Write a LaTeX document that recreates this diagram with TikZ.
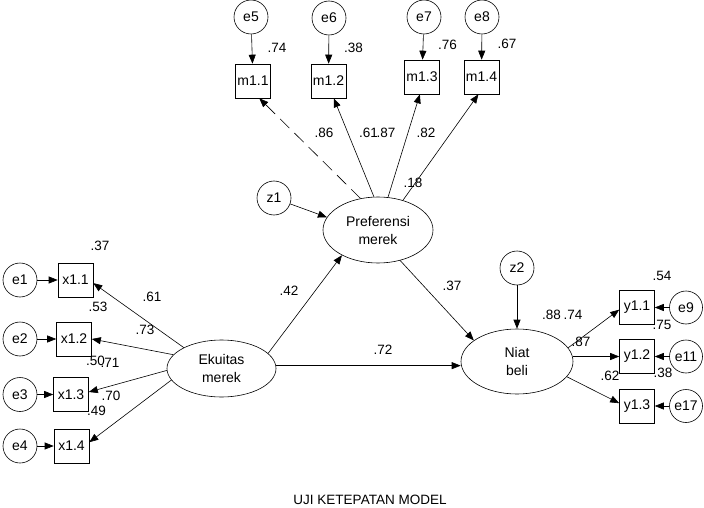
\documentclass[tikz,border=0pt]{standalone}
\usepackage{fontspec}
\setmainfont{Liberation Sans}
\usetikzlibrary{arrows.meta,shapes.geometric}
\begin{document}
\begin{tikzpicture}[x=1pt,y=-1pt,
  font=\fontsize{14}{18}\selectfont,
  obs/.style={draw, line width=0.6pt, minimum width=35pt, minimum height=34pt, inner sep=0pt},
  err/.style={draw, circle, line width=0.6pt, minimum size=34pt, inner sep=0pt},
  lat/.style={draw, ellipse, line width=0.6pt, inner sep=0pt, align=center},
  arr/.style={line width=0.6pt, -{Triangle[length=9pt,width=7pt]}},
  lbl/.style={inner sep=0pt, font=\fontsize{13.5}{16}\selectfont}]
\useasboundingbox (0,0) rectangle (704,508);
% error circles top
\node[err] (e5) at (251,17) {e5};
\node[err] (e6) at (329,18) {e6};
\node[err] (e7) at (424,17) {e7};
\node[err] (e8) at (482,17) {e8};
% indicators m
\node[obs] (m11) at (253,81) {m1.1};
\node[obs] (m12) at (328.5,81) {m1.2};
\node[obs] (m13) at (422,77) {m1.3};
\node[obs] (m14) at (481.5,77) {m1.4};
% latent
\node[err] (z1) at (274,198) {z1};
\node[lat, minimum width=110pt, minimum height=66pt] (pref) at (378,230) {Preferensi\\merek};
\node[lat, minimum width=109pt, minimum height=57pt] (eku) at (221.5,368.5) {Ekuitas\\merek};
\node[lat, minimum width=112pt, minimum height=65pt] (niat) at (517,361.5) {Niat\\beli};
\node[err] (z2) at (517,268) {z2};
% x indicators
\node[obs] (x11) at (75.5,280) {x1.1};
\node[obs] (x12) at (74,339) {x1.2};
\node[obs] (x13) at (71,394.5) {x1.3};
\node[obs] (x14) at (71.5,446) {x1.4};
\node[err] (e1) at (20,280) {e1};
\node[err] (e2) at (20,339) {e2};
\node[err] (e3) at (20,394.5) {e3};
\node[err] (e4) at (20,446) {e4};
% y indicators
\node[obs] (y11) at (637,307.5) {y1.1};
\node[obs] (y12) at (637,356.5) {y1.2};
\node[obs] (y13) at (637,406) {y1.3};
\node[err, minimum size=33pt] (e9) at (686,307.5) {e9};
\node[err, minimum size=33pt] (e11) at (686,356.5) {e11};
\node[err, minimum size=33pt] (e17) at (686,406) {e17};
% error arrows
\draw[arr] (e5) -- (m11);
\draw[arr] (e6) -- (m12);
\draw[arr] (e7) -- (m13);
\draw[arr] (e8) -- (m14);
\draw[arr] (e1) -- (x11);
\draw[arr] (e2) -- (x12);
\draw[arr] (e3) -- (x13);
\draw[arr] (e4) -- (x14);
\draw[arr] (e9) -- (y11);
\draw[arr] (e11) -- (y12);
\draw[arr] (e17) -- (y13);
% loadings
\draw[arr, dash pattern=on 13pt off 7pt] (pref.119) -- (m11.-70);
\draw[arr] (pref.97) -- (m12.-73);
\draw[arr] (pref.73) -- (m13.-97);
\draw[arr] (pref.50) -- (m14.-100);
\draw[arr] (eku.151) -- (x11.-10);
\draw[arr] (eku.164) -- (x12.east);
\draw[arr] (eku.182) -- (x13.8);
\draw[arr] (eku.193) -- (x14.12);
\draw[arr] (niat.15) -- (y11.187);
\draw[arr] (niat.east |- y12.west) -- (y12.west);
\draw[arr] (niat.-17) -- (y13.171);
% structural paths
\draw[arr] (z1) -- (pref.166);
\draw[arr] (eku.18) -- (pref.215);
\draw[arr] (pref.-54) -- (niat.154);
\draw[arr] (eku.3) -- (niat.west |- eku.3);
\draw[arr] (z2) -- (niat);
% labels
\node[lbl] (l1) at (277,48) {.74};
\node[lbl] (l2) at (353.5,48) {.38};
\node[lbl] (l3) at (447.5,45) {.76};
\node[lbl] (l4) at (507,44) {.67};
\node[lbl] (l5) at (324,133) {.86};
\node[lbl] (l6) at (368.5,133) {.61};
\node[lbl] (l7) at (386,133) {.87};
\node[lbl] (l8) at (426,133) {.82};
\node[lbl] (l9) at (413,183) {.18};
\node[lbl] (l10) at (100,246) {.37};
\node[lbl] (l11) at (152,297) {.61};
\node[lbl] (l12) at (98,306.5) {.53};
\node[lbl] (l13) at (145,330) {.73};
\node[lbl] (l14) at (95.5,361) {.50};
\node[lbl] (l15) at (110,363) {.71};
\node[lbl] (l16) at (111,396) {.70};
\node[lbl] (l17) at (96.5,411) {.49};
\node[lbl] (l18) at (289,291) {.42};
\node[lbl] (l19) at (383,350) {.72};
\node[lbl] (l20) at (452,286) {.37};
\node[lbl] (l21) at (662,276) {.54};
\node[lbl] (l22) at (551.5,315) {.88};
\node[lbl] (l23) at (573,315) {.74};
\node[lbl] (l24) at (662,325) {.75};
\node[lbl] (l25) at (581,342) {.87};
\node[lbl] (l26) at (610,376) {.62};
\node[lbl] (l27) at (663,373) {.38};
\node[lbl] (title) at (370,500) {UJI KETEPATAN MODEL};
\end{tikzpicture}
\end{document}
